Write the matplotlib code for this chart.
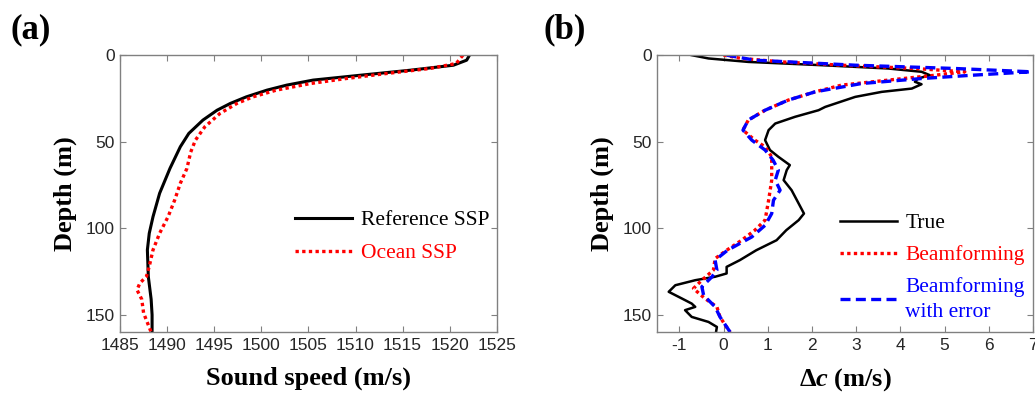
import numpy as np
import matplotlib
matplotlib.use('Agg')
from matplotlib import pyplot as plt

# (a) perfis de velocidade do som
depth_ref = [0, 2.9, 5.8, 8.7, 11.6, 14.4, 17.3, 20.2, 24.1, 27.9, 31.8, 37.5, 45.2, 52.9, 65.4, 79.8, 93.3, 102.9, 112.5, 127.9, 141, 150, 160]
c_ref = [1522.1, 1521.8, 1520.4, 1515.8, 1510.5, 1505.5, 1502.7, 1500.6, 1498.4, 1496.7, 1495.3, 1493.8, 1492.3, 1491.4, 1490.3, 1489.2, 1488.5, 1488.1, 1487.9, 1488.0, 1488.3, 1488.4, 1488.4]

depth_ocean = [0, 4.8, 7.7, 10.6, 13.5, 16.4, 20.2, 24.1, 27.9, 33.7, 41.4, 49.1, 56, 65.4, 74, 83.7, 93.3, 102.9, 112.5, 122, 127.9, 131.7, 135.6, 141, 149, 160]
c_ocean = [1521.4, 1520.7, 1517.9, 1513.3, 1509.0, 1505.2, 1501.6, 1499.1, 1497.4, 1495.6, 1494.0, 1493.0, 1492.5, 1492.1, 1491.4, 1490.8, 1490.1, 1489.2, 1488.5, 1488.1, 1487.8, 1487.1, 1486.8, 1487.3, 1487.5, 1488.3]

# (b) diferenca de velocidade
depth_true = [0, 1.9, 3.9, 5.8, 7.7, 9.6, 11.6, 13.5, 15.4, 16.8, 19.3, 21.2, 24.1, 29.9, 31.8, 35.6, 39.5, 43.3, 49.1, 54.8, 58.7, 63.5, 66.4, 72.2, 78, 85.7, 91.5, 95.3, 101.1, 106.9, 112.7, 118.4, 122.3, 126.1, 128, 130, 132.9, 136.7, 140.6, 143.5, 145.4, 147.3, 151.2, 154.1, 157, 160]
dc_true = [-0.72, -0.34, 0.56, 2.22, 3.72, 4.48, 4.67, 4.4, 4.33, 4.48, 4.26, 3.58, 2.98, 2.30, 2.15, 1.62, 1.17, 1.02, 0.94, 1.05, 1.24, 1.50, 1.43, 1.36, 1.54, 1.70, 1.82, 1.70, 1.42, 1.20, 0.74, 0.37, 0.07, 0.07, -0.19, -0.64, -1.09, -1.24, -0.94, -0.72, -0.64, -0.87, -0.72, -0.34, -0.15, -0.17]

depth_bf = [0, 1.9, 3.9, 5.8, 7.7, 9.6, 11.6, 14.4, 17.3, 21.2, 26, 31.8, 37.5, 43.3, 49.1, 53, 58.7, 72.2, 83.8, 95.3, 101.1, 106.9, 112.7, 117.5, 124.2, 130, 134.8, 140.6, 145.4, 151.2, 156, 160]
dc_bf = [0.0, 0.41, 1.32, 2.67, 4.33, 5.46, 4.78, 3.73, 2.67, 2.07, 1.46, 0.94, 0.56, 0.44, 0.71, 0.94, 1.09, 1.09, 1.02, 0.94, 0.71, 0.41, 0.07, -0.19, -0.23, -0.49, -0.68, -0.42, -0.15, -0.08, 0.04, 0.15]

depth_err = [0, 2.9, 5.8, 7.7, 9.6, 11.6, 13.5, 16.4, 21.2, 26, 31.8, 37.5, 43.3, 49.1, 54.8, 60.6, 66.4, 72.2, 78, 83.8, 91.5, 98.3, 105, 112.7, 118.4, 124.2, 128, 133.8, 138.7, 145.4, 151.2, 160]
dc_err = [0.07, 0.71, 2.98, 5.24, 6.95, 5.62, 4.48, 3.12, 2.07, 1.46, 0.94, 0.56, 0.44, 0.64, 0.94, 1.12, 1.24, 1.17, 1.28, 1.13, 1.09, 0.94, 0.64, 0.09, -0.19, -0.15, -0.26, -0.49, -0.45, -0.19, -0.08, 0.15]

xticks_a = [1485, 1490, 1495, 1500, 1505, 1510, 1515, 1520, 1525]
xticks_b = [-1, 0, 1, 2, 3, 4, 5, 6, 7]
yticks = [0, 50, 100, 150]

plt.rcParams['axes.unicode_minus'] = False
plt.rcParams['mathtext.fontset'] = 'custom'
plt.rcParams['mathtext.rm'] = 'Liberation Serif:bold'
plt.rcParams['mathtext.it'] = 'Liberation Serif:italic:bold'

serif = 'Liberation Serif'
sans = 'Liberation Sans'
spine_col = '#808080'

fig = plt.figure(figsize=(10.35, 3.94), dpi=100)
ax1 = fig.add_axes([0.116, 0.157, 0.364, 0.703])
ax2 = fig.add_axes([0.635, 0.157, 0.363, 0.703])


def estilo(ax, xticks):
    ax.set_ylim(160, 0)
    ax.set_yticks(yticks)
    ax.set_xticks(xticks)
    for s in ax.spines.values():
        s.set_color(spine_col)
        s.set_linewidth(1.0)
    ax.tick_params(direction='in', top=True, right=True, length=4,
                   color=spine_col, labelsize=12.5, pad=4)
    for lab in ax.get_xticklabels() + ax.get_yticklabels():
        lab.set_family(sans)
        lab.set_color('#262626')
    ax.set_ylabel('Depth (m)', family=serif, fontweight='bold', fontsize=19, labelpad=6)


ax1.plot(c_ref, depth_ref, color='black', lw=2.2, label='Reference SSP')
ax1.plot(c_ocean, depth_ocean, color='red', lw=2.4, linestyle=(0, (1, 1)),
         dash_capstyle='butt', label='Ocean SSP')
ax1.set_xlim(1485, 1525)
estilo(ax1, xticks_a)
ax1.set_xlabel('Sound speed (m/s)', family=serif, fontweight='bold', fontsize=19, labelpad=10)
ax1.legend(loc='center left', bbox_to_anchor=(0.413, 0.345), frameon=False,
           prop={'family': serif, 'size': 15.5}, handlelength=2.65, handletextpad=0.4,
           labelcolor='linecolor', labelspacing=0.6)

ax2.plot(dc_true, depth_true, color='black', lw=1.8, label='True')
ax2.plot(dc_bf, depth_bf, color='red', lw=2.4, linestyle=(0, (1, 1)),
         dash_capstyle='butt', label='Beamforming')
ax2.plot(dc_err, depth_err, color='blue', lw=2.4, linestyle=(0, (3, 1.6)),
         label='Beamforming\nwith error')
ax2.set_xlim(-1.5, 7)
estilo(ax2, xticks_b)
ax2.set_xlabel(r'$\Delta\mathit{c}$ (m/s)', family=serif, fontweight='bold', fontsize=19, labelpad=10)
leg = ax2.legend(loc='center left', bbox_to_anchor=(0.434, 0.232), frameon=False,
                 prop={'family': serif, 'size': 15.5}, handlelength=2.65, handletextpad=0.4,
                 labelcolor='linecolor', labelspacing=0.55)
for t in leg.get_texts():
    t.set_linespacing(1.45)

fig.text(0.01, 0.965, '(a)', family=serif, fontweight='bold', fontsize=25, va='top')
fig.text(0.525, 0.965, '(b)', family=serif, fontweight='bold', fontsize=25, va='top')

plt.savefig('out.png', dpi=100)
